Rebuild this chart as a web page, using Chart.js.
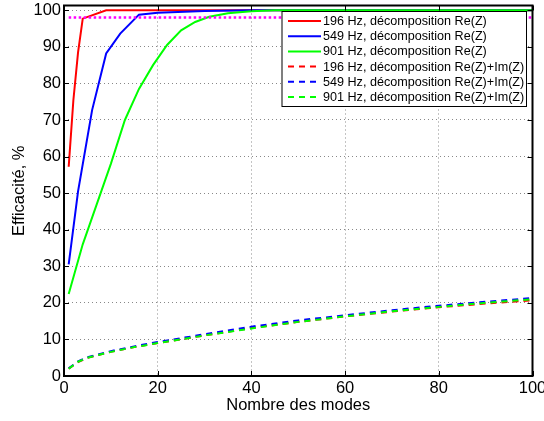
<!DOCTYPE html>
<html>
<head>
<meta charset="utf-8">
<script src="https://cdn.jsdelivr.net/npm/chart.js@4"></script>
<style>
  html, body { margin: 0; padding: 0; background: #fff; }
  canvas { display: block; }
</style>
</head>
<body>
<canvas id="chart" width="544" height="421"></canvas>
<script>
// nombre de modes (axe x) et efficacité en % (axe y)
const modes196 = [1, 2, 3, 4, 9, 100];
const eff196 = [57.2, 75.4, 88.5, 97.7, 100, 100];

const modes549 = [1, 3, 6, 9, 12, 16, 20, 30, 40, 100];
const eff549 = [30.5, 50.5, 72.7, 88.2, 93.6, 98.8, 99.3, 99.8, 100, 100];

const modes901 = [1, 4, 7, 10, 13, 16, 19, 22, 25, 28, 31, 35, 40, 45, 100];
const eff901 = [22.4, 36, 47, 58, 70, 78.5, 85, 90.5, 94.5, 96.8, 98.2, 99.2, 99.7, 100, 100];

const modesIm = [1, 3, 5, 10, 15, 20, 30, 40, 50, 60, 70, 80, 90, 100];
const effIm196 = [2.0, 3.8, 5.0, 6.6, 7.9, 9.0, 11.1, 13.1, 14.8, 16.3, 17.6, 18.8, 19.8, 20.7];
const effIm549 = [2.1, 4.0, 5.1, 6.8, 8.1, 9.3, 11.4, 13.5, 15.2, 16.6, 18.0, 19.2, 20.3, 21.3];
const effIm901 = [2.0, 3.9, 5.0, 6.6, 7.9, 9.0, 11.1, 13.0, 14.8, 16.3, 17.7, 18.9, 20.0, 21.0];

const seuilModes = [1, 100];
const seuilEff = [98, 98];

const xTicks = [0, 20, 40, 60, 80, 100];
const yTicks = [0, 10, 20, 30, 40, 50, 60, 70, 80, 90, 100];

const FONT = "'Liberation Sans', Arial, Helvetica, sans-serif";

function pts(xs, ys) {
  return xs.map((x, i) => ({ x: x, y: ys[i] }));
}

const series = [
  { label: '196 Hz, décomposition Re(Z)', data: pts(modes196, eff196), color: '#ff0000', dash: [] },
  { label: '549 Hz, décomposition Re(Z)', data: pts(modes549, eff549), color: '#0000ff', dash: [] },
  { label: '901 Hz, décomposition Re(Z)', data: pts(modes901, eff901), color: '#00ff00', dash: [] },
  { label: '196 Hz, décomposition Re(Z)+Im(Z)', data: pts(modesIm, effIm196), color: '#ff0000', dash: [6, 5] },
  { label: '549 Hz, décomposition Re(Z)+Im(Z)', data: pts(modesIm, effIm549), color: '#0000ff', dash: [6, 5] },
  { label: '901 Hz, décomposition Re(Z)+Im(Z)', data: pts(modesIm, effIm901), color: '#00ff00', dash: [6, 5] },
];

const datasets = series.map((s, i) => ({
  label: s.label,
  data: s.data,
  borderColor: s.color,
  backgroundColor: s.color,
  borderWidth: 2,
  borderDash: s.dash,
  pointRadius: 0,
  tension: 0,
  fill: false,
  order: 10 - i,
}));
datasets.push({
  label: 'seuil',
  data: pts(seuilModes, seuilEff),
  borderColor: '#ff00ff',
  borderWidth: 2.5,
  borderDash: [2.5, 2.5],
  pointRadius: 0,
  fill: false,
  order: 0,
});

// cadre, graduations intérieures et légende à la façon MATLAB
const matlabBox = {
  id: 'matlabBox',
  afterDatasetsDraw(chart) {
    const { ctx, chartArea: a, scales } = chart;
    ctx.save();
    ctx.strokeStyle = '#000';
    ctx.lineWidth = 1;
    ctx.beginPath();
    xTicks.forEach(v => {
      const px = Math.round(scales.x.getPixelForValue(v)) + 0.5;
      ctx.moveTo(px, a.bottom); ctx.lineTo(px, a.bottom - 5);
      ctx.moveTo(px, a.top); ctx.lineTo(px, a.top + 5);
    });
    yTicks.forEach(v => {
      const py = Math.round(scales.y.getPixelForValue(v)) + 0.5;
      ctx.moveTo(a.left, py); ctx.lineTo(a.left + 5, py);
      ctx.moveTo(a.right, py); ctx.lineTo(a.right - 5, py);
    });
    ctx.stroke();
    ctx.lineWidth = 2;
    ctx.strokeRect(a.left, a.top, a.right - a.left, a.bottom - a.top);
    ctx.restore();
  },
  afterDraw(chart) {
    const { ctx } = chart;
    const bx = 282, by = 11.5, bw = 244.5, bh = 95;
    ctx.save();
    ctx.fillStyle = '#fff';
    ctx.fillRect(bx, by, bw, bh);
    ctx.strokeStyle = '#000';
    ctx.lineWidth = 1;
    ctx.strokeRect(bx, by, bw, bh);
    ctx.font = '12.6px ' + FONT;
    ctx.textBaseline = 'middle';
    ctx.fillStyle = '#000';
    series.forEach((s, i) => {
      const y = 21 + i * 15.2;
      ctx.strokeStyle = s.color;
      ctx.lineWidth = 2;
      ctx.setLineDash(s.dash);
      ctx.beginPath();
      ctx.moveTo(288, y);
      ctx.lineTo(321, y);
      ctx.stroke();
      ctx.setLineDash([]);
      ctx.fillText(s.label, 323, y + 0.5);
    });
    ctx.restore();
  }
};

new Chart(document.getElementById('chart').getContext('2d'), {
  type: 'line',
  data: { datasets: datasets },
  options: {
    responsive: false,
    animation: false,
    devicePixelRatio: 1,
    layout: { padding: { top: 5.5, right: 11.5, left: 0, bottom: 0 } },
    plugins: {
      legend: { display: false },
      tooltip: { enabled: false },
    },
    scales: {
      x: {
        type: 'linear',
        min: 0,
        max: 100,
        afterBuildTicks: scale => { scale.ticks = xTicks.map(v => ({ value: v })); },
        afterFit: scale => { scale.height = 45; scale.paddingLeft = 0; scale.paddingRight = 0; },
        grid: { color: '#888', lineWidth: 1, drawTicks: false },
        border: { display: false, dash: [1, 3] },
        ticks: { color: '#000', font: { family: FONT, size: 16.5 }, padding: 3, maxRotation: 0 },
        title: { display: true, text: 'Nombre des modes', color: '#000',
                 font: { family: FONT, size: 16.5 }, padding: { top: 0, bottom: 5.5 } },
      },
      y: {
        type: 'linear',
        min: 0,
        max: 101.3,
        afterBuildTicks: scale => { scale.ticks = yTicks.map(v => ({ value: v })); },
        afterFit: scale => { scale.width = 64; scale.paddingTop = 0; scale.paddingBottom = 0; },
        grid: { color: '#888', lineWidth: 1, drawTicks: false },
        border: { display: false, dash: [1, 3] },
        ticks: { color: '#000', font: { family: FONT, size: 16.5 }, padding: 3 },
        title: { display: true, text: 'Efficacité, %', color: '#000',
                 font: { family: FONT, size: 16.5 }, padding: { top: 10, bottom: 0 } },
      },
    },
  },
  plugins: [matlabBox],
});
</script>
</body>
</html>
